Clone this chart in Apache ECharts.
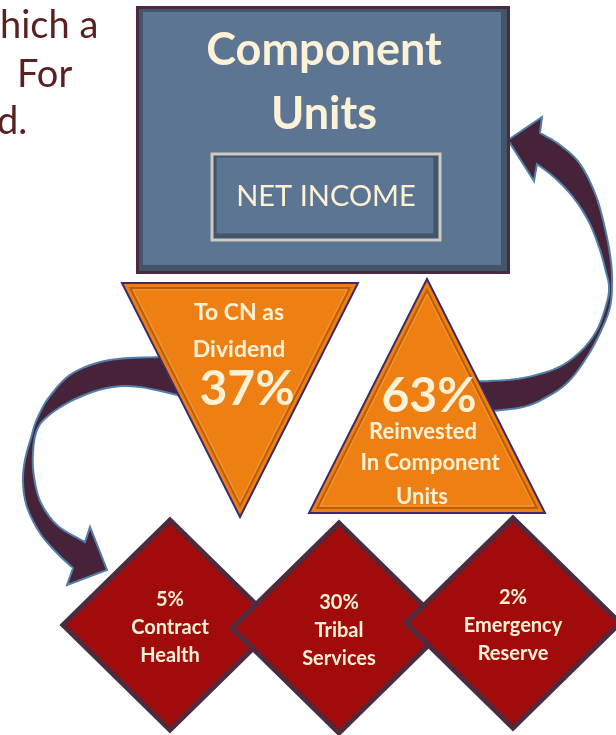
<!DOCTYPE html>
<html>
<head>
<meta charset="utf-8">
<script src="https://cdn.jsdelivr.net/npm/echarts@6/dist/echarts.min.js"></script>
<style>
  html, body { margin: 0; padding: 0; background: #fff; }
  #chart { width: 616px; height: 735px; }
</style>
</head>
<body>
<div id="chart"></div>
<script>
// values
const sideText = ['hich a', 'For', 'd.'];
const sourceTitle = ['Component', 'Units'];
const sourceLabel = 'NET INCOME';
const splitNames = [['To CN as', 'Dividend'], ['Reinvested', 'In Component', 'Units']];
const splitShares = [37, 63];
const useNames = [['Contract', 'Health'], ['Tribal', 'Services'], ['Emergency', 'Reserve']];
const useShares = [5, 30, 2];

// layout, in the pixel space of the hidden axes
const sidePos = [[0, 26], [17, 75], [-3, 122]];
const boxPos = [323, 140], boxSize = [374, 268];
const innerPos = [326, 197], innerSize = [231, 89];
const splitPos = [[240, 400], [427, 396]];
const splitSize = [236, 234];
const usePos = [[170, 625], [339, 628], [513, 623]];
const useSize = [214, 210];

// arrow outlines: one side tail->head, head, other side head->tail
const arrows = [
  {
    sideA: [[470, 411], [490, 411], [523, 407], [545, 398], [567, 383], [585, 360], [600, 333],
            [610, 307], [612, 283], [611, 262], [606, 233], [596, 196], [580, 164], [560, 145], [540, 133]],
    head: [[542, 117], [508, 140], [534, 181]],
    sideB: [[537, 164], [555, 178], [573, 197], [589, 222], [600, 250], [606, 272], [609, 286],
            [607, 302], [597, 330], [580, 352], [557, 368], [523, 378], [490, 381], [470, 381]]
  },
  {
    sideA: [[185, 356], [160, 357], [110, 360], [73, 373], [50, 396], [37, 419], [31, 438],
            [25, 460], [23, 482], [27, 507], [40, 533], [57, 553], [73, 568]],
    head: [[67, 585], [107, 570], [90, 527]],
    sideB: [[85, 542], [58, 526], [41, 503], [34, 477], [33, 452], [37, 430], [48, 416],
            [73, 400], [107, 388], [140, 387], [190, 398]]
  }
];

function smoothLine(pts, steps) {
  const out = [];
  for (let i = 0; i < pts.length - 1; i++) {
    const p0 = pts[Math.max(i - 1, 0)], p1 = pts[i], p2 = pts[i + 1], p3 = pts[Math.min(i + 2, pts.length - 1)];
    for (let s = 0; s < steps; s++) {
      const t = s / steps, t2 = t * t, t3 = t2 * t;
      out.push([0, 1].map(k => 0.5 * (2 * p1[k] + (-p0[k] + p2[k]) * t +
        (2 * p0[k] - 5 * p1[k] + 4 * p2[k] - p3[k]) * t2 +
        (-p0[k] + 3 * p1[k] - 3 * p2[k] + p3[k]) * t3)));
    }
  }
  out.push(pts[pts.length - 1]);
  return out;
}

const FONT = 'Lato, "Open Sans", sans-serif';
const CREAM = '#fdf1d6';

function txt(text, x, y, size, weight, fill, align) {
  return {
    type: 'text',
    style: {
      text: text, x: x, y: y, fill: fill || CREAM,
      fontSize: size, fontWeight: weight || 'bold', fontFamily: FONT,
      align: align || 'center', verticalAlign: 'middle'
    }
  };
}

function cornerBox(api, c, size) {
  const a = api.coord([c[0] - size[0] / 2, c[1] - size[1] / 2]);
  const b = api.coord([c[0] + size[0] / 2, c[1] + size[1] / 2]);
  return { x: Math.min(a[0], b[0]), y: Math.min(a[1], b[1]), w: Math.abs(b[0] - a[0]), h: Math.abs(b[1] - a[1]) };
}

function bevelRects(r, edge, edgeColor, band) {
  return [
    { type: 'rect', shape: { x: r.x, y: r.y, width: r.w, height: r.h }, style: { fill: edgeColor } },
    { type: 'rect', shape: { x: r.x + edge, y: r.y + edge, width: r.w - 2 * edge, height: r.h - 2 * edge }, style: { fill: '#43556a' } },
    { type: 'rect', shape: { x: r.x + edge + band, y: r.y + edge + band - 1, width: r.w - 2 * edge - 2 * band - 2, height: r.h - 2 * edge - 2 * band - 1 }, style: { fill: '#5b7592' } }
  ];
}

function insetPoly(pts, d) {
  // shrink a triangle toward its incenter by d pixels
  const len = (p, q) => Math.hypot(p[0] - q[0], p[1] - q[1]);
  const a = len(pts[1], pts[2]), b = len(pts[0], pts[2]), c = len(pts[0], pts[1]);
  const per = a + b + c;
  const ix = (a * pts[0][0] + b * pts[1][0] + c * pts[2][0]) / per;
  const iy = (a * pts[0][1] + b * pts[1][1] + c * pts[2][1]) / per;
  const area = Math.abs((pts[1][0] - pts[0][0]) * (pts[2][1] - pts[0][1]) - (pts[2][0] - pts[0][0]) * (pts[1][1] - pts[0][1])) / 2;
  const r = 2 * area / per;
  const k = (r - d) / r;
  return pts.map(p => [ix + (p[0] - ix) * k, iy + (p[1] - iy) * k]);
}

const splitText = [
  [[-1, -87, 23], [-1, -50, 23], [7, -10, 48]],
  [[2, 1, 48], [-4, 36, 22], [3, 67, 22], [-5, 101, 22]]
];
const useOffsets = [-25, 2.5, 30.5];

const chart = echarts.init(document.getElementById('chart'));
chart.setOption({
  animation: false,
  grid: { left: 0, right: 0, top: 0, bottom: 0 },
  xAxis: { type: 'value', min: 0, max: 616, show: false },
  yAxis: { type: 'value', min: 0, max: 735, inverse: true, show: false },
  series: [
    {
      type: 'custom', z: 1, silent: true,
      data: sideText.map((t, i) => [sidePos[i][0], sidePos[i][1]]),
      renderItem: (params, api) => {
        const p = api.coord([api.value(0), api.value(1)]);
        return txt(sideText[params.dataIndex], p[0], p[1], 38, 'normal', '#5a2121', 'left');
      }
    },
    {
      type: 'custom', z: 2, silent: true,
      data: arrows.map(a => a.head[1]),
      renderItem: (params, api) => {
        const a = arrows[params.dataIndex];
        const pts = smoothLine(a.sideA, 8).concat(a.head, smoothLine(a.sideB, 8)).map(p => api.coord(p));
        return {
          type: 'polygon', shape: { points: pts },
          style: { fill: '#47233a', stroke: '#5080aa', lineWidth: 2, lineJoin: 'miter' }
        };
      }
    },
    {
      type: 'custom', z: 3, silent: true,
      data: [boxPos],
      renderItem: (params, api) => {
        const outer = cornerBox(api, [api.value(0), api.value(1)], boxSize);
        const inner = cornerBox(api, innerPos, innerSize);
        const c = api.coord([api.value(0), api.value(1)]);
        const ic = api.coord(innerPos);
        return {
          type: 'group',
          children: bevelRects(outer, 3, '#4a2a40', 4).concat(bevelRects(inner, 3, '#cbccc4', 3), [
            txt(sourceTitle[0], c[0] + 1, c[1] - 90, 45),
            txt(sourceTitle[1], c[0] + 1, c[1] - 26, 45),
            txt(sourceLabel, ic[0], ic[1], 29, 'normal')
          ])
        };
      }
    },
    {
      type: 'custom', z: 4, silent: true,
      data: splitShares.map((s, i) => [splitPos[i][0], splitPos[i][1], s]),
      renderItem: (params, api) => {
        const i = params.dataIndex;
        const cx = api.value(0), cy = api.value(1);
        const hw = splitSize[0] / 2, hh = splitSize[1] / 2;
        const raw = i === 0
          ? [[cx - hw, cy - hh], [cx + hw, cy - hh], [cx, cy + hh]]
          : [[cx, cy - hh], [cx + hw, cy + hh], [cx - hw, cy + hh]];
        const pts = raw.map(p => api.coord(p));
        const lines = i === 0 ? splitNames[0].concat(api.value(2) + '%') : [api.value(2) + '%'].concat(splitNames[1]);
        const c = api.coord([cx, cy]);
        return {
          type: 'group',
          children: [
            { type: 'polygon', shape: { points: pts }, style: { fill: '#ee7f12', stroke: '#3e2a6a', lineWidth: 2, lineJoin: 'miter' } },
            { type: 'polygon', shape: { points: insetPoly(pts, 5) }, style: { fill: 'none', stroke: '#b95f0c', lineWidth: 2, lineJoin: 'miter' } },
            { type: 'polygon', shape: { points: insetPoly(pts, 7) }, style: { fill: 'none', stroke: '#f59a3a', lineWidth: 1, lineJoin: 'miter' } }
          ].concat(lines.map((t, k) => {
            const o = splitText[i][k];
            return txt(t, c[0] + o[0], c[1] + o[1], o[2]);
          }))
        };
      }
    },
    {
      type: 'custom', z: 5, silent: true,
      data: useShares.map((s, i) => [usePos[i][0], usePos[i][1], s]),
      renderItem: (params, api) => {
        const i = params.dataIndex;
        const cx = api.value(0), cy = api.value(1);
        const hw = useSize[0] / 2, hh = useSize[1] / 2;
        const pts = [[cx, cy - hh], [cx + hw, cy], [cx, cy + hh], [cx - hw, cy]].map(p => api.coord(p));
        const c = api.coord([cx, cy]);
        const lines = [api.value(2) + '%'].concat(useNames[i]);
        return {
          type: 'group',
          children: [
            { type: 'polygon', shape: { points: pts }, style: { fill: '#a20b0b', stroke: '#4d2a3d', lineWidth: 5, lineJoin: 'miter' } }
          ].concat(lines.map((t, k) => txt(t, c[0], c[1] + useOffsets[k], 20)))
        };
      }
    }
  ]
});
</script>
</body>
</html>
